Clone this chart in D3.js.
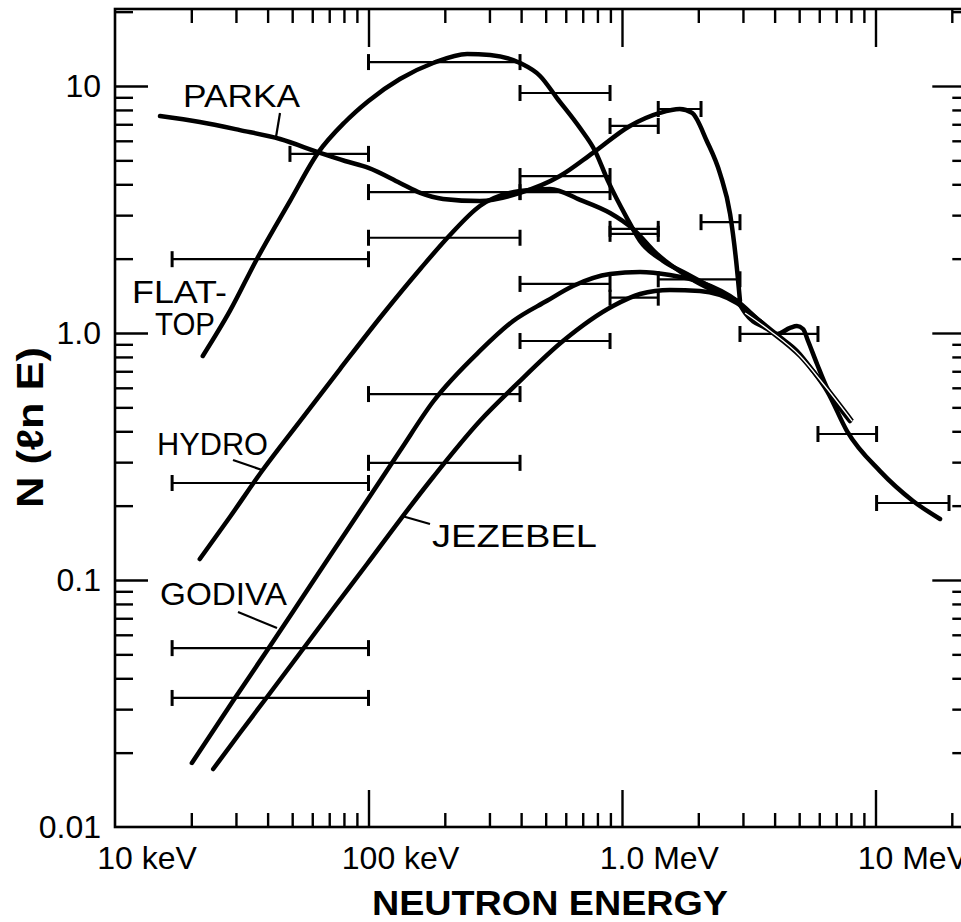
<!DOCTYPE html>
<html>
<head>
<meta charset="utf-8">
<script src="https://cdn.jsdelivr.net/npm/d3@7"></script>
<style>
  body { margin: 0; background: #fff; }
  svg { display: block; }
  text { font-family: "Liberation Sans", Arial, sans-serif; fill: #000; }
  .tickLabel { font-size: 32px; }
  .curveLabel { font-size: 32px; }
  .axisTitle { font-size: 35px; font-weight: bold; }
  .curve { fill: none; stroke: #000; stroke-width: 4.5; stroke-linecap: round; stroke-linejoin: round; }
  .errBar { stroke: #000; stroke-width: 2.2; }
  .errCap { stroke: #000; stroke-width: 3; }
  .frame { stroke: #000; stroke-width: 2.6; fill: none; }
</style>
</head>
<body>
<div id="chart"></div>
<script>
const WIDTH = 961;
const HEIGHT = 922;

// energies in MeV, N(ln E) values
const parka = [[0.01505, 7.56], [0.0216, 7.15], [0.0311, 6.63], [0.0448, 6.10], [0.0644, 5.36], [0.0808, 4.97],
  [0.1, 4.66], [0.133, 4.05], [0.160, 3.69], [0.197, 3.49], [0.275, 3.42], [0.396, 3.69], [0.569, 4.32],
  [0.768, 5.36], [1.075, 6.89], [1.41, 7.78], [1.69, 8.07], [1.89, 7.78], [2.16, 5.99], [2.44, 4.40],
  [2.67, 3.03], [2.82, 1.96], [2.92, 1.35]];

const flatTop = [[0.0222, 0.807], [0.0284, 1.228], [0.0363, 1.994], [0.049, 3.42], [0.0632, 5.36], [0.0808, 7.15],
  [0.1, 8.70], [0.133, 10.67], [0.180, 12.39], [0.245, 13.48], [0.302, 13.35], [0.396, 12.39], [0.475, 10.98],
  [0.554, 8.94], [0.683, 6.76], [0.783, 5.46], [0.881, 4.12], [1.046, 2.92], [1.178, 2.36], [1.451, 1.96],
  [1.805, 1.733], [2.286, 1.521], [2.84, 1.35]];

const hydro = [[0.0216, 0.1216], [0.0284, 0.1799], [0.0380, 0.2763], [0.0537, 0.4402], [0.0772, 0.7148],
  [0.1141, 1.194], [0.160, 1.816], [0.2097, 2.494], [0.275, 3.268], [0.396, 3.76], [0.520, 3.83], [0.683, 3.46],
  [0.897, 3.06], [1.105, 2.64], [1.374, 2.09], [1.854, 1.67], [2.84, 1.35]];

const godiva = [[0.0201, 0.01816], [0.0292, 0.03236], [0.0398, 0.05183], [0.0537, 0.0822], [0.0724, 0.1304],
  [0.0987, 0.2099], [0.133, 0.3329], [0.180, 0.5281], [0.275, 0.846], [0.372, 1.118], [0.506, 1.35], [0.641, 1.55],
  [0.897, 1.733], [1.178, 1.766], [1.546, 1.717], [2.03, 1.609], [2.84, 1.35], [3.50, 1.118], [4.20, 0.963],
  [4.90, 0.846], [5.67, 0.702], [6.44, 0.582], [7.72, 0.401], [10.42, 0.276], [14.06, 0.209], [17.97, 0.1766]];

const jezebel = [[0.0244, 0.01717], [0.0311, 0.02402], [0.0398, 0.0336], [0.0537, 0.05064], [0.0724, 0.07631],
  [0.0987, 0.1161], [0.133, 0.1749], [0.180, 0.2612], [0.275, 0.4402], [0.385, 0.622], [0.585, 0.928], [0.922, 1.286],
  [1.178, 1.438], [1.546, 1.493], [2.03, 1.479], [2.84, 1.323], [3.50, 1.118], [4.09, 0.991], [4.60, 1.048],
  [4.90, 1.067], [5.18, 1.038], [5.42, 0.928], [5.88, 0.749], [6.44, 0.599], [7.05, 0.516], [7.93, 0.440]];

const hollowTail = [[2.92, 1.30], [3.06, 1.205], [3.84, 1.019], [5.04, 0.807], [6.32, 0.610], [8.08, 0.440]];

// [E low, E high, N]
const errorBars = [
  [0.049, 0.1, 5.31], [0.0168, 0.1, 1.99], [0.1, 0.396, 12.5], [0.396, 0.897, 9.37], [0.897, 1.39, 6.89],
  [1.39, 2.05, 8.07], [0.396, 0.897, 4.32], [0.1, 0.396, 3.72], [0.396, 0.897, 3.72], [0.1, 0.396, 2.43],
  [0.897, 1.39, 2.64], [0.897, 1.39, 2.52], [2.05, 2.92, 2.81], [0.396, 0.897, 1.58], [1.39, 2.92, 1.65],
  [0.897, 1.39, 1.39], [0.396, 0.897, 0.928], [0.1, 0.396, 0.566], [0.1, 0.396, 0.298], [0.0168, 0.1, 0.247],
  [2.92, 5.93, 0.991], [5.93, 10.1, 0.390], [10.1, 19.5, 0.205], [0.0168, 0.1, 0.0530], [0.0168, 0.1, 0.0333]
];

const xMajor = [0.01, 0.1, 1, 10];
const xMajorNumbers = ["10", "100", "1.0", "10"];
const xMajorUnits = [" keV", " keV", " MeV", " MeV"];
const yMajor = [0.01, 0.1, 1, 10];
const yMajorLabels = ["0.01", "0.1", "1.0", "10"];

const minorOf = (majors, max) => {
  let out = [];
  majors.forEach(m => { for (let k = 2; k <= 9; k++) if (m * k < max) out.push(m * k); });
  return out;
}

let x = d3.scaleLog().domain([0.01, 22]).range([115, 962.3]);
let y = d3.scaleLog().domain([0.01, 20.5]).range([827, 9]);

let svg = d3.select("#chart").append("svg")
  .attr("width", WIDTH)
  .attr("height", HEIGHT);

// axes ticks (inward)
const drawTicks = (axis, transform) => {
  let g = svg.append("g").attr("transform", transform).call(axis);
  g.select(".domain").remove();
  g.selectAll("text").remove();
  g.selectAll("line").attr("stroke", "#000").attr("stroke-width", 2.4);
}
drawTicks(d3.axisBottom(x).tickValues(xMajor.slice(1)).tickSize(-37), "translate(0,827)");
drawTicks(d3.axisBottom(x).tickValues(minorOf(xMajor, 22)).tickSize(-14), "translate(0,827)");
drawTicks(d3.axisTop(x).tickValues(xMajor.slice(1)).tickSize(-37), "translate(0,10)");
drawTicks(d3.axisTop(x).tickValues(minorOf(xMajor, 22)).tickSize(-13), "translate(0,10)");
drawTicks(d3.axisLeft(y).tickValues(yMajor.slice(1)).tickSize(-33), "translate(115,0)");
drawTicks(d3.axisLeft(y).tickValues(minorOf(yMajor, 20.5)).tickSize(-18), "translate(115,0)");
drawTicks(d3.axisRight(y).tickValues(yMajor.slice(1)).tickSize(-30), "translate(962.3,0)");
drawTicks(d3.axisRight(y).tickValues(minorOf(yMajor, 20.5)).tickSize(-10), "translate(962.3,0)");

// frame
svg.append("rect").attr("class", "frame")
  .attr("x", x.range()[0]).attr("y", y.range()[1])
  .attr("width", x.range()[1] - x.range()[0])
  .attr("height", y.range()[0] - y.range()[1]);

// tick labels
yMajor.forEach((v, i) => {
  svg.append("text").attr("class", "tickLabel")
    .attr("x", 101).attr("y", y(v) + 11)
    .attr("text-anchor", "end")
    .text(yMajorLabels[i]);
});
xMajor.forEach((v, i) => {
  let t = svg.append("text").attr("class", "tickLabel").attr("y", 869);
  let num = t.append("tspan").text(xMajorNumbers[i]);
  t.append("tspan").text(xMajorUnits[i]);
  let w = num.node().getComputedTextLength();
  t.attr("x", x(v) - w / 2);
});

// axis titles
svg.append("text").attr("class", "axisTitle")
  .attr("x", 372).attr("y", 915)
  .attr("textLength", 356).attr("lengthAdjust", "spacingAndGlyphs")
  .text("NEUTRON ENERGY");
svg.append("text").attr("class", "axisTitle")
  .attr("transform", "translate(43,427.5) rotate(-90)")
  .attr("text-anchor", "middle")
  .style("font-size", "37px")
  .attr("textLength", 161).attr("lengthAdjust", "spacingAndGlyphs")
  .text("N (ℓn E)");

// error bars
let bars = svg.append("g");
errorBars.forEach(b => {
  let x1 = x(b[0]), x2 = x(b[1]), yy = y(b[2]);
  bars.append("line").attr("class", "errBar").attr("x1", x1).attr("x2", x2).attr("y1", yy).attr("y2", yy);
  [x1, x2].forEach(xc => {
    bars.append("line").attr("class", "errCap").attr("x1", xc).attr("x2", xc).attr("y1", yy - 8).attr("y2", yy + 8);
  });
});

// curves
let line = d3.line()
  .x(d => x(d[0]))
  .y(d => y(d[1]))
  .curve(d3.curveMonotoneX);

[parka, flatTop, hydro, godiva, jezebel].forEach(c => {
  svg.append("path").attr("class", "curve").attr("d", line(c));
});
svg.append("path").attr("class", "curve").attr("d", line(hollowTail)).style("stroke-linecap", "butt");
svg.append("path").attr("d", line(hollowTail.slice(1))).attr("fill", "none")
  .attr("stroke", "#fff").attr("stroke-width", 1.3);

// curve labels with leader lines
const curveLabels = [
  { text: "PARKA", x: 183, y: 107, len: 117, lead: [280, 113, 276, 137] },
  { text: "FLAT-", x: 132, y: 303, len: 95 },
  { text: "TOP", x: 155, y: 335, len: 60 },
  { text: "HYDRO", x: 157, y: 455, len: 111, lead: [233, 460, 262, 470] },
  { text: "GODIVA", x: 160, y: 605, len: 127, lead: [238, 612, 277, 628] },
  { text: "JEZEBEL", x: 432, y: 547, len: 165, lead: [430, 524, 402, 516] }
];
curveLabels.forEach(l => {
  svg.append("text").attr("class", "curveLabel")
    .attr("x", l.x).attr("y", l.y)
    .attr("textLength", l.len).attr("lengthAdjust", "spacingAndGlyphs")
    .text(l.text);
  if (l.lead) {
    svg.append("line")
      .attr("x1", l.lead[0]).attr("y1", l.lead[1]).attr("x2", l.lead[2]).attr("y2", l.lead[3])
      .attr("stroke", "#000").attr("stroke-width", 2.2);
  }
});
</script>
</body>
</html>
